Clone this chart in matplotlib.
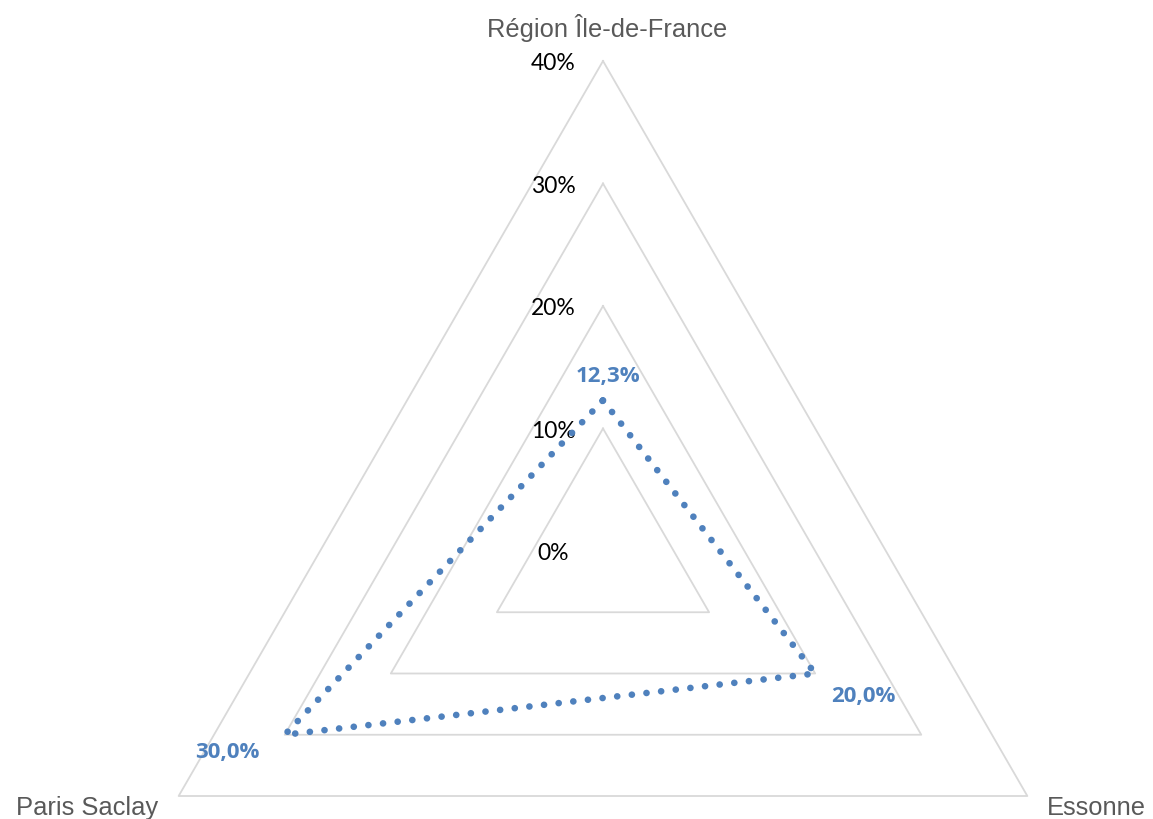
import numpy as np
import matplotlib
matplotlib.use("Agg")
import matplotlib.pyplot as plt

# data
categories = ["Région Île-de-France", "Essonne", "Paris Saclay"]
values = [12.3, 20.0, 30.0]
value_labels = ["12,3%", "20,0%", "30,0%"]
rings = [10, 20, 30, 40]
ring_labels = ["0%", "10%", "20%", "30%", "40%"]

blue = "#4F81BD"
grid_color = "#D9D9D9"

fig = plt.figure(figsize=(11.53, 8.2), dpi=100)
ax = fig.add_axes([113 / 1153, -222 / 820, 980 / 1153, 980 / 820], projection="polar")
ax.set_theta_offset(np.pi / 2)
ax.set_theta_direction(-1)
ax.set_ylim(0, 40)
ax.grid(False)
ax.spines["polar"].set_visible(False)
ax.set_xticks([])
ax.set_yticks([])
ax.patch.set_visible(False)

angles = np.linspace(0, 2 * np.pi, len(categories), endpoint=False)
closed = np.append(angles, angles[0])

# triangular grid
for r in rings:
    ax.plot(closed, [r] * len(closed), color=grid_color, lw=1.3, clip_on=False, zorder=1)

# radial tick labels along the top spoke
for r, lab in zip([0] + rings, ring_labels):
    ax.annotate(lab, xy=(0, r), xytext=(-50, -2), textcoords="offset pixels",
                ha="center", va="center", fontsize=16.5, family="Lato",
                color="black", annotation_clip=False)

# series
vals = np.append(values, values[0])
ax.plot(closed, vals, color=blue, lw=4.8, linestyle=(0, (0.01, 2.2)),
        dash_capstyle="round", clip_on=False, zorder=3)

# data labels
label_offsets = [(5, 25), (48, -22), (-57, -17)]
for a, v, lab, off in zip(angles, values, value_labels, label_offsets):
    ax.annotate(lab, xy=(a, v), xytext=off, textcoords="offset pixels",
                ha="center", va="center", fontsize=16, fontweight="bold",
                family="Open Sans", color=blue, annotation_clip=False)

# category labels
cat_offsets = [(4, 34), (69, -11), (-92, -11)]
for a, lab, off in zip(angles, categories, cat_offsets):
    ax.annotate(lab, xy=(a, 40), xytext=off, textcoords="offset pixels",
                ha="center", va="center", fontsize=18.4,
                family="Liberation Sans", color="#595959", annotation_clip=False)

fig.savefig("out.png", dpi=100)
